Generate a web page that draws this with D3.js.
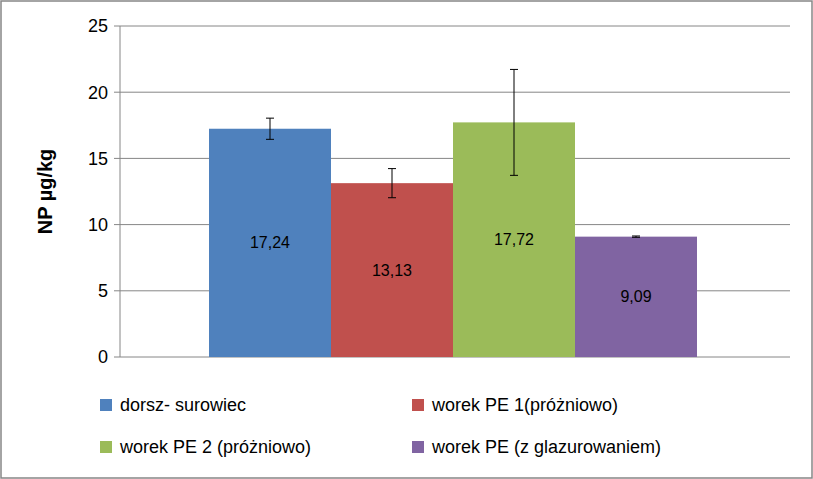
<!DOCTYPE html>
<html><head><meta charset="utf-8">
<script src="https://cdn.jsdelivr.net/npm/d3@7"></script>
<style>body{margin:0;background:#fff}</style>
</head><body>
<svg id="chart" width="813" height="479"></svg>
<script>
const categories = ["dorsz- surowiec", "worek PE 1(próżniowo)", "worek PE 2 (próżniowo)", "worek PE (z glazurowaniem)"];
const values = [17.24, 13.13, 17.72, 9.09];
const errors = [0.8, 1.1, 4.0, 0.05];
const labels = ["17,24", "13,13", "17,72", "9,09"];
const colors = ["#4f81bd", "#c0504d", "#9bbb59", "#8064a2"];
const yTicks = [0, 5, 10, 15, 20, 25];

const svg = d3.select("#chart");
const font = "'Liberation Sans', Arial, sans-serif";
const plot = { left: 120, right: 790, top: 26, bottom: 357 };

// outer border
svg.append("rect").attr("x", 1).attr("y", 1).attr("width", 811).attr("height", 477)
  .attr("fill", "#fff").attr("stroke", "#868686").attr("stroke-width", 1.5);

const y = d3.scaleLinear().domain([0, 25]).range([plot.bottom, plot.top]);
const x = d3.scaleBand().domain(categories).range([209, 697]).padding(0);

// grid lines
svg.selectAll(".grid").data(yTicks).enter().append("line")
  .attr("x1", plot.left).attr("x2", plot.right)
  .attr("y1", (d) => y(d)).attr("y2", (d) => y(d))
  .attr("stroke", "#868686").attr("stroke-width", 1);

// y axis line
svg.append("line").attr("x1", plot.left).attr("x2", plot.left)
  .attr("y1", plot.top).attr("y2", plot.bottom).attr("stroke", "#868686");
svg.selectAll(".tick").data(yTicks).enter().append("line")
  .attr("x1", plot.left - 6).attr("x2", plot.left)
  .attr("y1", (d) => y(d)).attr("y2", (d) => y(d)).attr("stroke", "#868686");
svg.selectAll(".ylab").data(yTicks).enter().append("text")
  .attr("x", plot.left - 12).attr("y", (d) => y(d)).attr("dy", "0.35em")
  .attr("text-anchor", "end").attr("font-family", font).attr("font-size", 18)
  .text((d) => d);

svg.append("text").attr("transform", `translate(52,${(plot.top + plot.bottom) / 2}) rotate(-90)`)
  .attr("text-anchor", "middle").attr("font-family", font).attr("font-size", 20)
  .attr("font-weight", "bold").text("NP µg/kg");

// bars
svg.selectAll("rect.bar").data(categories).enter().append("rect")
  .attr("x", (d) => x(d)).attr("width", x.bandwidth())
  .attr("y", (d, i) => y(values[i])).attr("height", (d, i) => y(0) - y(values[i]))
  .attr("fill", (d, i) => colors[i]);

// value labels
svg.selectAll(".val").data(categories).enter().append("text")
  .attr("x", (d) => x(d) + x.bandwidth() / 2)
  .attr("y", (d, i) => (y(values[i]) + y(0)) / 2).attr("dy", "0.35em")
  .attr("text-anchor", "middle").attr("font-family", font).attr("font-size", 16)
  .text((d, i) => labels[i]);

// error bars
categories.forEach((c, i) => {
  const cx = x(c) + x.bandwidth() / 2;
  const y1 = y(values[i] + errors[i]), y2 = y(values[i] - errors[i]);
  const g = svg.append("g").attr("stroke", "#000").attr("stroke-width", 1);
  g.append("line").attr("x1", cx).attr("x2", cx).attr("y1", y1).attr("y2", y2);
  g.append("line").attr("x1", cx - 4).attr("x2", cx + 4).attr("y1", y1).attr("y2", y1);
  g.append("line").attr("x1", cx - 4).attr("x2", cx + 4).attr("y1", y2).attr("y2", y2);
});

// legend
const legend = svg.selectAll(".legend").data(categories).enter().append("g")
  .attr("transform", (d, i) => `translate(${i % 2 ? 412 : 100},${i < 2 ? 405 : 447})`);
legend.append("rect").attr("x", 0).attr("y", -6).attr("width", 12).attr("height", 12)
  .attr("fill", (d, i) => colors[i]);
legend.append("text").attr("x", 20).attr("dy", "0.35em")
  .attr("font-family", font).attr("font-size", 18).text((d) => d);
</script>
</body></html>
